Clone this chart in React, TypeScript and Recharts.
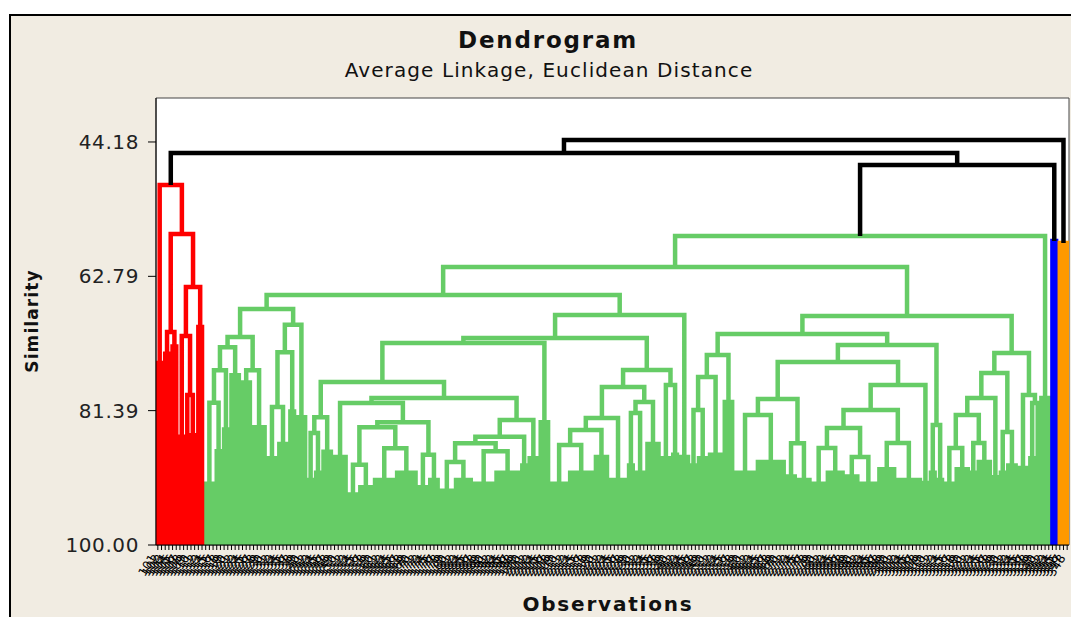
import { CartesianGrid, Line, LineChart, ReferenceArea, XAxis, YAxis } from 'recharts'

// Tree notation: a merge is [similarity, left, right]; a leaf group is [leafCount, similarityAtTop]
// (a group of 1 is a single observation). Read off the picture, left to right.
type Tree = any[]

const redCluster: Tree = [50.14,
  [2, 74.8],
  [56.92,
    [70.5, [2, 73.5], [2, 72.5]],
    [64.26,
      [71.05, [2, 85.0], [79.22, [1, 100], [2, 84.8]]],
      [2, 69.8]]]]

const greenLeft: Tree = [67.31,
  [71.2,
    [72.6,
      [75.8, [80.3, [3, 91.5], [2, 87]], [2, 84]],
      [3, 76.5]],
    [75.8, [3, 77.5], [4, 83.7]]],
  [69.5,
    [73.3, [80.9, [3, 88], [3, 86]], [2, 81.5]],
    [3, 82.3]]]

const greenD: Tree = [72.02,
  [77.42,
    [82.3, [84.5, [2, 91], [2, 90]], [3, 87.1]],
    [79.64,
      [80.33,
        [4, 87.8],
        [83.0,
          [83.7, [88.9, [3, 93], [4, 92]], [86.6, [6, 91], [6, 90]]],
          [87.5, [3, 92], [3, 91]]]],
      [82.7,
        [85.0,
          [85.9, [88.5, [4, 92.5], [5, 91]], [87.0, [6, 91.5], [7, 90]]],
          [2, 89]],
        [3, 88]]]],
  [3, 83]]

const greenE: Tree = [75.76,
  [78.12,
    [82.41, [84.07, [86.15, [5, 91.5], [7, 90]], [4, 87.8]], [5, 91]],
    [80.19, [81.72, [2, 89], [3, 90]], [4, 86]]],
  [77.84, [3, 88], [2, 87.5]]]

const greenF: Tree = [3, 87.8]

const greenG: Tree = [70.77,
  [73.68, [76.73, [81.3, [2, 89], [3, 88]], [4, 87.5]], [3, 80.2]],
  [72.3,
    [74.65,
      [79.78, [82.0, [6, 90], [8, 88.5]], [85.9, [3, 90.5], [4, 91]]],
      [77.84,
        [81.3,
          [83.79, [86.56, [4, 91.5], [5, 90]], [87.81, [4, 90.5], [5, 91.5]]],
          [85.87, [5, 89.5], [7, 91]]],
        [2, 91.4]]],
    [83.38, [2, 90], [2, 91]]]]

const greenH: Tree = [73.41,
  [76.18,
    [79.64,
      [81.99, [86.56, [3, 91.5], [4, 89.5]], [85.87, [2, 90], [4, 88.5]]],
      [2, 90.6]],
    [84.35, [2, 90], [3, 89]]],
  [79.22, [3, 89.33], [80.33, [2, 88], [1, 100]]]]

const greenB: Tree = [3, 79.64]

const greenCluster: Tree = [57.2,
  [61.49,
    [65.37, greenLeft, [68.14, [71.33, greenD, greenE], greenF]],
    [68.28, greenG, greenH]],
  greenB]

const blueCluster: Tree = [2, 57.89]
const orangeCluster: Tree = [3, 58.17]

// merges above the cut, drawn in black; names point at the coloured clusters
const upperTree: Tree = [43.9, [45.7, 'red', [47.37, 'green', 'blue']], 'orange']

const yTicks = [44.18, 62.79, 81.39, 100]
const Y_TOP = 38.09

const clusterTrees: Record<string, Tree> = {
  red: redCluster,
  green: greenCluster,
  blue: blueCluster,
  orange: orangeCluster,
}

const colors: Record<string, string> = {
  black: '#000000',
  red: '#ff0000',
  green: '#66cc66',
  blue: '#0000ff',
  orange: '#ff9900',
}

type Pt = { x: number; y: number | null }
const segs: Record<string, Pt[]> = { red: [], green: [], blue: [], orange: [], black: [] }
let cursor = 0

function place(t: Tree | string, color: string): { x: number; s: number } {
  if (typeof t === 'string') return place(clusterTrees[t], t)
  const pts = segs[color]
  if (t.length === 2) {
    const [n, top] = t as number[]
    const first = cursor + 0.5
    const last = cursor + n - 0.5
    cursor += n
    if (n === 1) return { x: first, s: 100 }
    pts.push({ x: first, y: 100 }, { x: first, y: top }, { x: last, y: top }, { x: last, y: 100 }, { x: last, y: null })
    for (let i = 1; i < n - 1; i++) {
      pts.push({ x: first + i, y: 100 }, { x: first + i, y: top }, { x: first + i, y: null })
    }
    return { x: (first + last) / 2, s: top }
  }
  const s = t[0] as number
  const a = place(t[1], color)
  const b = place(t[2], color)
  segs[color].push({ x: a.x, y: a.s }, { x: a.x, y: s }, { x: b.x, y: s }, { x: b.x, y: b.s }, { x: b.x, y: null })
  return { x: (a.x + b.x) / 2, s }
}

place(upperTree, 'black')
const N = cursor
const leafTicks = Array.from({ length: N }, (_, i) => i + 0.5)
// observation labels are unreadable in the source; numbered in leaf order
const obsLabels = leafTicks.map((_, i) => String(i + 101))

function ObsTick(props: any) {
  const { x, y, payload } = props
  const label = obsLabels[Math.floor(payload.value)]
  const tx = x - 4
  const ty = y + 4
  return (
    <text
      x={tx}
      y={ty}
      transform={`rotate(-58 ${tx} ${ty})`}
      textAnchor="end"
      dominantBaseline="middle"
      fontSize={12}
      fontFamily="DejaVu Sans"
      fill="#000"
    >
      {label}
    </text>
  )
}

const font = 'DejaVu Sans, Verdana, sans-serif'

export default function App() {
  return (
    <div style={{ position: 'absolute', left: 0, top: 0, width: 1071, height: 617, background: '#fff', overflow: 'hidden' }}>
      <div
        style={{
          position: 'absolute',
          left: 9,
          top: 14,
          width: 1070,
          height: 610,
          background: '#f1ece2',
          borderLeft: '2px solid #000',
          borderTop: '2px solid #000',
        }}
      />
      <div style={{ position: 'absolute', left: 0, top: 0 }}>
        <LineChart width={1071} height={617} margin={{ top: 98, right: 2, bottom: 0, left: 0 }}>
          <CartesianGrid fill="#ffffff" horizontal={false} vertical={false} />
          <XAxis
            type="number"
            dataKey="x"
            domain={[0, N]}
            ticks={leafTicks}
            interval={0}
            height={72}
            tickSize={5}
            tick={<ObsTick />}
            axisLine={{ stroke: '#000' }}
            tickLine={{ stroke: '#000' }}
            allowDataOverflow
          />
          <YAxis
            type="number"
            domain={[Y_TOP, 100]}
            reversed
            ticks={yTicks}
            interval={0}
            width={156}
            tickSize={8}
            tickMargin={9}
            tickFormatter={(v: number) => v.toFixed(2)}
            tick={{ fill: '#222', fontSize: 20, fontFamily: font, letterSpacing: 0.6 }}
            axisLine={{ stroke: '#000' }}
            tickLine={{ stroke: '#000' }}
            allowDataOverflow
          />
          {['green', 'red', 'blue', 'orange', 'black'].map((c) => (
            <Line
              key={c}
              data={segs[c]}
              dataKey="y"
              stroke={colors[c]}
              strokeWidth={4.5}
              strokeLinejoin="miter"
              strokeLinecap="butt"
              dot={false}
              activeDot={false}
              connectNulls={false}
              isAnimationActive={false}
            />
          ))}
          <ReferenceArea x1={0} x2={N} y1={Y_TOP} y2={100} fill="none" fillOpacity={0} stroke="#444" strokeWidth={1} />
        </LineChart>
      </div>
      <svg width={1071} height={617} style={{ position: 'absolute', left: 0, top: 0, pointerEvents: 'none' }}>
        <text x={548} y={48} textAnchor="middle" fontFamily={font} fontWeight="bold" fontSize={23} letterSpacing={1.8} fill="#111">
          Dendrogram
        </text>
        <text x={549} y={77} textAnchor="middle" fontFamily={font} fontSize={20} letterSpacing={1.1} fill="#111">
          Average Linkage, Euclidean Distance
        </text>
        <text
          x={38}
          y={321}
          transform="rotate(-90 38 321)"
          textAnchor="middle"
          fontFamily={font}
          fontWeight="bold"
          fontSize={17}
          letterSpacing={1.1}
          fill="#111"
        >
          Similarity
        </text>
        <text x={608} y={611} textAnchor="middle" fontFamily={font} fontWeight="bold" fontSize={20} letterSpacing={1.8} fill="#111">
          Observations
        </text>
      </svg>
    </div>
  )
}
